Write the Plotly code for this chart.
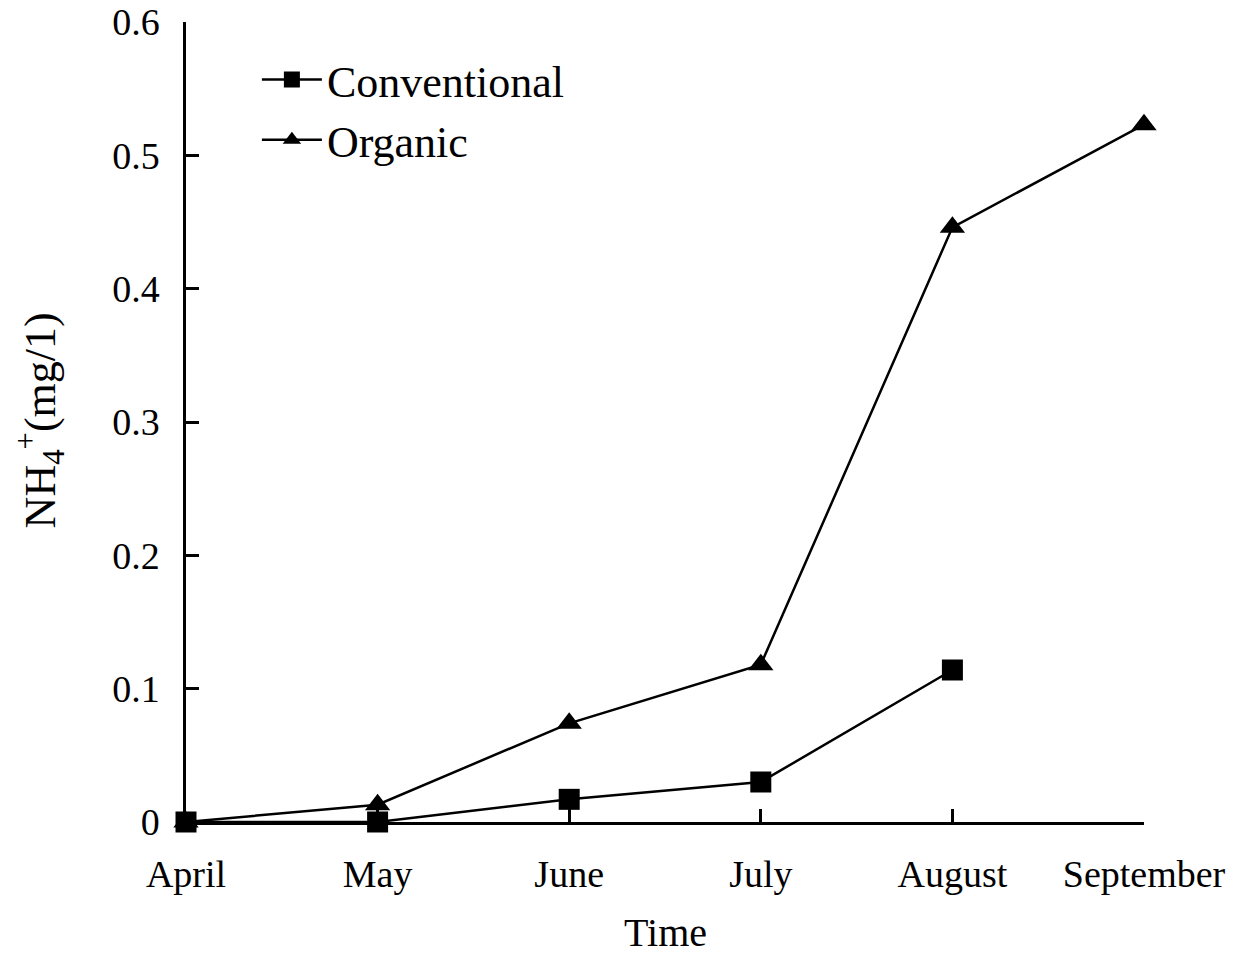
import plotly.graph_objects as go

months = ["April", "May", "June", "July", "August", "September"]
conventional = [0.0, 0.0, 0.017, 0.030, 0.114, None]
organic = [0.0, 0.013, 0.074, 0.118, 0.446, 0.523]
y_ticks = [0, 0.1, 0.2, 0.3, 0.4, 0.5, 0.6]
y_tick_labels = ["0", "0.1", "0.2", "0.3", "0.4", "0.5", "0.6"]

FONT = "Liberation Serif"

fig = go.Figure()
fig.add_trace(go.Scatter(
    x=months, y=conventional, name="Conventional", mode="lines+markers",
    line=dict(color="black", width=2.5),
    marker=dict(symbol="square", size=21, color="black"),
    cliponaxis=False,
))
fig.add_trace(go.Scatter(
    x=months, y=organic, name="Organic", mode="lines+markers",
    line=dict(color="black", width=2.5),
    marker=dict(symbol="triangle-up", size=22, color="black"),
    cliponaxis=False,
))

fig.update_layout(
    width=1240, height=956,
    margin=dict(l=186, r=96, t=22, b=134, autoexpand=False),
    paper_bgcolor="white", plot_bgcolor="white",
    font=dict(family=FONT, color="black", size=38),
    showlegend=True,
    legend=dict(x=0.074, y=0.972, xanchor="left", yanchor="top",
                font=dict(family=FONT, size=44), bgcolor="rgba(0,0,0,0)",
                tracegroupgap=0, itemwidth=60),
    xaxis=dict(
        type="category", range=[0, 5], showline=True, linecolor="black", linewidth=2.5,
        ticks="inside", ticklen=13, tickwidth=2.5, tickcolor="black",
        showgrid=False, zeroline=False, tickfont=dict(size=38),
        ticklabelstandoff=17, automargin=False,
    ),
    yaxis=dict(
        range=[0, 0.6], tickvals=y_ticks, ticktext=y_tick_labels,
        showline=True, linecolor="black", linewidth=2.5,
        ticks="inside", ticklen=13, tickwidth=2.5, tickcolor="black",
        showgrid=False, zeroline=False, tickfont=dict(size=38),
        ticklabelstandoff=16, automargin=False,
    ),
    annotations=[
        dict(
            text="NH<sub>4</sub><sup>+</sup>(mg/1)", xref="paper", yref="paper",
            x=-0.152, y=0.5025, xanchor="center", yanchor="middle",
            textangle=-90, showarrow=False, font=dict(family=FONT, size=44),
        ),
        dict(
            text="Time", xref="paper", yref="paper",
            x=(665 - 186) / 958, y=(822 - 932) / 800, xanchor="center", yanchor="middle",
            showarrow=False, font=dict(family=FONT, size=40),
        ),
    ],
)

fig.write_html("out.html", config={"displayModeBar": False},
               post_script="document.body.style.margin='0';")
